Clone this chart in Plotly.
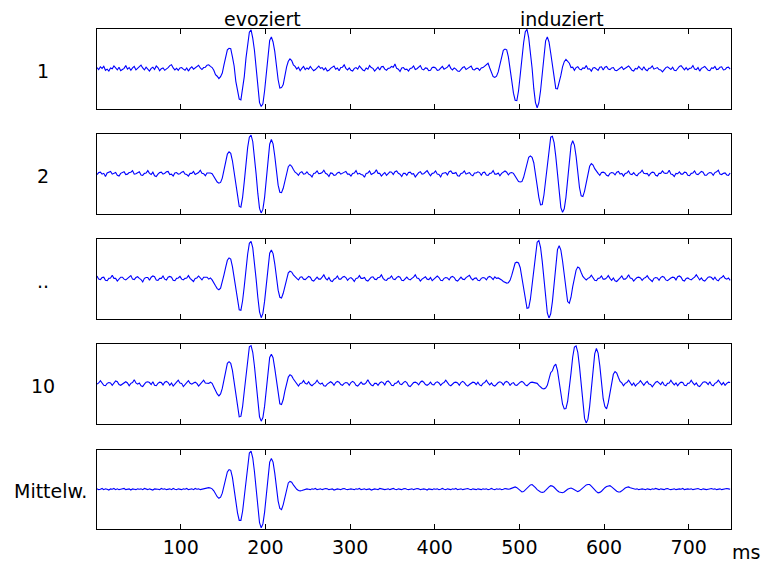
import plotly.graph_objects as go

# time axis (ms), 2 ms sampling
t_ms = list(range(1, 751, 2))

# signal values (arbitrary units x100), one row = 50 ms
trial_1_rows = [
    [3,-2,5,1,6,-4,-1,-6,2,0,7,3,-3,4,-5,-2,1,8,-1,3,-4,2,6,-3,1],
    [5,9,2,-3,4,-1,-6,1,4,-2,7,3,-5,0,2,-4,-1,3,8,10,2,-3,1,-4,2],
    [3,-1,-4,2,-6,1,5,-1,3,6,9,2,-2,3,4,9,10,6,3,-4,-15,-19,-25,-20,-11],
    [10,28,48,52,51,30,7,-32,-59,-77,-79,-53,-20,27,63,93,99,78,47,-2,-46,-86,-96,-89,-56],
    [-10,33,72,81,68,44,3,-28,-49,-48,-40,-16,5,19,25,21,10,6,-1,4,-5,1,6,-2,2],
    [-1,6,0,-5,-2,4,7,1,3,-3,2,-6,-4,1,5,7,-1,2,-5,3,4,10,1,-3,2],
    [-4,-6,1,3,-1,7,2,-3,-5,2,-1,8,3,1,-6,-2,4,-3,5,6,-1,-4,1,2,6],
    [4,12,1,-1,-7,2,3,-2,-1,-6,1,2,7,-2,0,5,8,-1,-3,2,1,-5,-4,3,4],
    [2,-4,-3,3,6,-1,2,4,10,1,-3,2,-1,-6,-7,-1,3,5,-2,1,4,7,-2,-3,1],
    [1,-4,2,3,7,10,14,2,-12,-20,-22,-19,-8,9,31,47,50,48,30,4,-31,-62,-80,-81,-56],
    [-16,27,66,94,100,79,44,2,-50,-86,-99,-87,-56,-10,37,71,81,68,40,7,-29,-50,-51,-36,-17],
    [5,18,24,19,14,3,4,-4,3,5,-1,-3,2,1,8,-1,0,-6,2,3,-1,-4,4,5,-3],
    [4,6,-1,-2,2,3,-4,-5,-1,3,5,-2,1,4,7,2,-4,-6,1,-1,6,1,-3,5,-2],
    [-5,1,2,7,-1,2,3,-2,-3,-8,-1,3,5,1,-2,4,-4,-5,2,6,8,1,-3,3,-3],
    [1,2,8,-1,-2,3,-6,1,3,6,1,-4,-5,2,1,6,-2,-1,4,5,-3,-2,3,4,-1],
]

trial_2_rows = [
    [-2,3,4,-1,1,-7,2,4,6,-1,1,3,-4,-6,1,3,5,-2,-1,3,4,8,-1,0,2],
    [5,-3,-4,1,2,8,1,-2,4,-5,-7,-1,3,4,-1,1,5,6,-2,-1,-6,2,3,-1,0],
    [4,6,-1,-2,-6,1,1,6,-2,1,3,9,1,0,-5,2,2,2,0,-7,-16,-21,-24,-22,-11],
    [9,32,50,56,52,33,4,-33,-64,-83,-85,-60,-20,26,67,93,98,82,46,-1,-50,-88,-100,-90,-60],
    [-14,36,75,87,76,45,6,-29,-47,-48,-37,-17,4,18,23,19,11,4,1,-4,3,5,-1,0,5],
    [-1,-3,-8,1,2,7,0,1,3,9,1,-1,-7,2,1,-4,-3,2,4,-1,1,4,6,-1,-1],
    [-6,1,2,8,-1,1,-2,-3,-9,1,2,7,-2,0,3,10,1,1,-6,-1,3,-4,2,5,4],
    [-2,5,7,1,-1,-7,1,1,-4,3,4,-1,0,-8,-1,3,5,-1,0,3,8,1,-5,1,2],
    [7,-1,-2,-8,1,2,3,-3,5,7,1,1,3,-5,-6,1,2,7,-1,1,3,-3,-5,2,2],
    [5,3,-4,3,4,-3,-4,1,2,8,-1,-1,2,-5,1,3,7,4,-3,2,3,1,-6,-15,-20],
    [-21,-20,-9,7,28,42,45,42,28,3,-30,-60,-79,-78,-54,-17,26,66,93,95,79,44,-1,-49,-86],
    [-98,-89,-60,-14,34,72,84,73,44,3,-35,-56,-58,-44,-20,4,19,26,22,13,6,1,-4,3,4],
    [2,-4,-6,1,3,2,-3,4,6,-1,1,-6,1,2,7,-1,-2,3,-3,-5,1,3,9,1,0],
    [1,-5,1,4,3,-4,-6,1,1,7,2,1,2,9,-1,-2,-7,1,0,5,-1,-1,4,3,-4],
    [-5,1,2,7,-1,-2,3,6,4,-4,-4,1,3,2,-4,3,5,9,-1,-2,1,2,-3,-4,2],
]

trial_n_rows = [
    [7,-1,-2,3,4,-4,-5,1,2,9,1,1,-6,-1,4,4,-1,-3,1,3,8,-1,-2,3,5],
    [1,-2,-8,1,3,3,-4,4,7,5,-3,-4,1,1,7,-1,-3,4,6,4,-4,-5,1,2,6],
    [-1,-3,1,2,8,1,-2,-7,1,2,7,1,-3,4,4,4,-1,2,-3,-9,-18,-25,-28,-24,-10],
    [10,29,47,53,50,31,4,-31,-60,-79,-80,-56,-19,24,63,90,95,79,44,-1,-47,-84,-99,-88,-57],
    [-12,33,65,73,64,38,4,-29,-47,-49,-37,-17,3,15,19,17,10,4,1,-3,4,5,-1,-2,3],
    [6,4,-4,-6,-1,4,-1,-1,4,10,1,-3,3,-5,-7,-1,1,7,-1,-1,4,6,3,-4,1],
    [3,-1,-7,1,2,8,1,1,3,-4,-6,-1,4,5,-1,-2,3,4,10,1,-3,-4,1,2,7],
    [-1,-2,3,6,4,-4,-5,-1,4,-1,-3,1,4,10,2,1,-6,-1,3,5,-1,-2,3,-5,-1],
    [4,7,3,-4,-5,1,3,2,-3,4,6,3,-4,-6,-1,4,-1,-2,3,5,9,1,-3,1,2],
    [-4,-5,1,3,2,-3,4,6,3,-2,5,1,2,0,-3,-7,-10,-11,-10,-4,9,28,40,42,40],
    [28,3,-30,-58,-75,-74,-52,-16,26,66,93,97,80,44,-1,-49,-87,-100,-89,-58,-10,38,74,84,73],
    [45,6,-36,-58,-62,-47,-20,5,22,30,27,16,6,1,-3,1,3,9,1,-4,-5,1,2,7,-1],
    [-1,2,8,1,-4,2,-5,-7,-1,2,7,-1,-1,3,10,2,1,-6,-1,3,4,2,-4,1,3],
    [8,1,-2,-7,1,3,2,-4,3,6,4,-3,-5,-1,2,4,3,-3,5,7,4,-4,-6,1,2],
    [-1,-3,1,4,10,2,-3,2,-4,-6,-1,4,5,3,-2,4,-3,-5,1,3,8,1,-1,2,-4],
]

trial_10_rows = [
    [-1,2,8,1,-4,-5,1,3,2,-4,3,7,5,-2,-4,-1,4,5,2,-5,1,3,10,2,-1],
    [2,-5,-7,-1,4,5,3,-2,5,-4,-5,1,4,3,-3,4,6,3,-4,2,-6,-1,3,9,2],
    [1,-7,-1,2,8,1,-1,2,4,1,-6,-1,3,9,2,1,1,4,1,-8,-19,-26,-31,-26,-12],
    [9,33,52,56,52,34,4,-34,-66,-84,-83,-58,-19,25,66,94,97,80,45,-1,-47,-84,-95,-86,-57],
    [-12,33,67,75,66,39,4,-31,-51,-53,-40,-18,3,17,23,20,12,5,1,-6,1,2,8,1,-1],
    [5,-2,-5,-1,2,9,2,-1,2,-5,-6,-1,3,5,2,-4,3,6,4,-2,-4,1,3,2,-4],
    [3,6,3,-4,-6,-1,4,-1,-1,3,10,2,-3,-5,1,1,-4,2,5,3,-3,5,7,3,-4],
    [-5,1,2,7,-1,-2,3,6,3,-5,-7,-2,3,4,2,-3,4,7,4,-2,-4,-1,4,-2,-3],
    [3,5,2,-4,1,3,9,2,-3,-5,-1,3,4,2,-4,3,6,3,-3,-6,-2,2,4,3,-2],
    [4,-3,-5,1,3,9,2,-3,2,-4,-6,-1,3,5,3,-3,4,6,3,-4,1,3,-3,-4,1],
    [4,6,3,-3,-5,-1,3,4,3,3,1,-4,-9,-12,-13,-11,-4,10,28,33,45,50,34,5,-28],
    [-52,-64,-63,-45,-14,27,68,93,96,80,44,-2,-50,-88,-100,-90,-58,-10,40,76,90,78,46,5,-38],
    [-58,-64,-48,-20,6,24,31,27,16,6,2,-5,1,3,9,1,-4,2,-6,-1,2,8,1,-4,2],
    [6,-1,-2,-8,-1,4,6,3,-2,5,-3,-5,1,2,9,2,-3,2,-5,1,4,3,-4,-5,1],
    [2,9,2,-3,2,-5,-7,-1,4,5,3,-2,5,-3,-5,1,3,9,2,-3,3,-4,1,4,3],
]

mean_rows = [
    [1,-1,0,2,-1,1,0,-2,1,0,2,-1,1,-1,0,1,2,-1,0,1,-2,1,0,-1,1],
    [0,1,-1,2,0,-1,1,0,-2,1,1,0,-1,2,0,1,-1,0,1,-1,2,0,-1,1,0],
    [-1,1,0,2,-1,0,1,-1,2,0,1,-1,0,1,2,3,4,3,1,-4,-12,-19,-23,-20,-10],
    [7,27,44,50,48,30,4,-30,-60,-79,-79,-56,-19,24,64,92,97,80,45,0,-48,-85,-98,-88,-58],
    [-12,34,69,78,69,41,5,-30,-49,-52,-39,-18,3,16,20,18,11,4,0,-3,-4,-3,-1,0,1],
    [0,-1,1,0,2,-1,0,1,-1,0,2,1,-1,0,1,-2,0,1,0,-1,1,2,0,-1,0],
    [1,0,-1,1,0,2,-1,0,1,-1,0,1,-2,0,1,0,-1,2,1,0,-1,0,1,-1,0],
    [2,0,-1,1,0,-1,1,2,0,-1,0,1,-1,0,2,1,-1,0,1,0,-2,1,0,-1,1],
    [0,1,-1,0,2,0,-1,1,0,-1,1,0,2,-1,0,1,-1,0,1,2,0,-1,1,0,-1],
    [1,0,-1,1,0,1,-1,0,2,0,-1,1,0,1,-1,0,2,1,0,1,3,5,6,4,0],
    [-4,-7,-6,-2,3,8,11,12,9,4,-1,-5,-7,-8,-7,-3,2,6,9,8,5,0,-4,-7,-9],
    [-9,-7,-3,0,2,3,1,-2,-5,-6,-4,0,4,8,11,12,12,8,3,-2,-6,-9,-8,-5,0],
    [4,7,9,9,6,2,-2,-5,-7,-7,-4,0,3,5,6,4,2,1,0,1,-1,0,1,0,-1],
    [1,0,-1,1,0,2,0,-1,1,0,-1,1,2,0,-1,0,1,-1,0,1,0,2,-1,0,1],
    [0,1,-1,0,1,2,0,-1,1,0,-1,0,1,2,0,1,-1,0,1,-1,0,1,2,1,0],
]

row_labels = ["1", "2", "..", "10", "Mittelw."]
col_titles = ["evoziert", "induziert"]
title_pos_ms = [196, 550]
tick_values = [100, 200, 300, 400, 500, 600, 700]
tick_labels = ["100", "200", "300", "400", "500", "600", "700"]
x_unit = "ms"

all_rows = [trial_1_rows, trial_2_rows, trial_n_rows, trial_10_rows, mean_rows]
for rows in all_rows:
    for r in rows:
        assert len(r) == 25, (len(r), r)
series = [sum(rows, []) for rows in all_rows]

FONT = "DejaVu Sans"
BLUE = "#0000ff"
n = len(series)
tops = [1.0, 0.79, 0.58, 0.37, 0.159]
h = 0.159

fig = go.Figure()
layout = dict(
    width=761, height=562,
    margin=dict(l=97, r=30, t=29, b=33, autoexpand=False),
    paper_bgcolor="white", plot_bgcolor="white",
    showlegend=False,
    font=dict(family=FONT, size=19, color="black"),
)
annotations = []
for i, vals in enumerate(series):
    k = "" if i == 0 else str(i + 1)
    fig.add_trace(go.Scatter(x=t_ms, y=vals, mode="lines",
                             line=dict(color=BLUE, width=1.1),
                             xaxis="x" + k, yaxis="y" + k, hoverinfo="skip"))
    layout["xaxis" + k] = dict(
        domain=[0, 1], anchor="y" + k, range=[1, 750], automargin=False,
        tickvals=tick_values, ticktext=tick_labels,
        showticklabels=(i == n - 1),
        ticks="inside", ticklen=5, tickwidth=1, tickcolor="black",
        showline=True, linecolor="black", linewidth=1, mirror="ticks",
        showgrid=False, zeroline=False, ticklabelstandoff=1,
        tickfont=dict(family=FONT, size=19, color="black"),
    )
    layout["yaxis" + k] = dict(
        domain=[tops[i] - h, tops[i]], anchor="x" + k, range=[-101, 101],
        automargin=False,
        showticklabels=False, ticks="",
        showline=True, linecolor="black", linewidth=1, mirror=True,
        showgrid=False, zeroline=False,
    )
    cx = -0.0741 if i == n - 1 else -0.0852
    annotations.append(dict(
        text=row_labels[i], xref="paper", yref="paper",
        x=cx, y=tops[i] - h / 2 - 0.004, xanchor="center", yanchor="middle",
        showarrow=False, font=dict(family=FONT, size=19, color="black")))

for title, pos in zip(col_titles, title_pos_ms):
    annotations.append(dict(
        text=title, xref="x", yref="paper", x=pos, y=1.0194,
        xanchor="center", yanchor="middle", showarrow=False,
        font=dict(family=FONT, size=19, color="black")))

annotations.append(dict(
    text=x_unit, xref="paper", yref="paper", x=1.0237, y=-0.045,
    xanchor="center", yanchor="middle", showarrow=False,
    font=dict(family=FONT, size=19, color="black")))

layout["annotations"] = annotations
fig.update_layout(**layout)
fig.write_html("out.html",
               config={"displayModeBar": False},
               post_script="document.body.style.margin='0px';"
                           "document.body.style.overflow='hidden';")
